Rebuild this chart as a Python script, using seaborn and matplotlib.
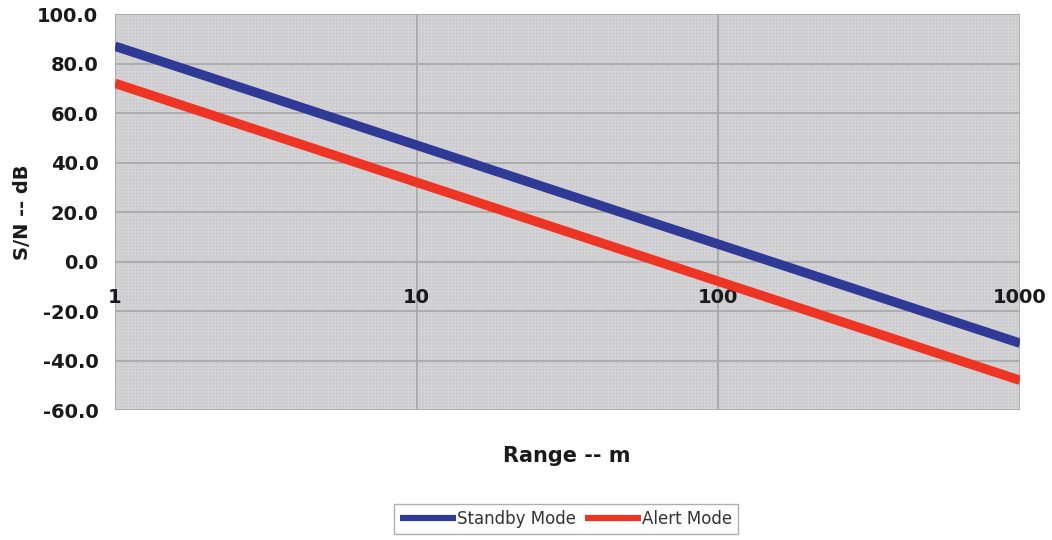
import matplotlib
matplotlib.use('Agg')
import matplotlib.pyplot as plt
import matplotlib.ticker as mticker
from matplotlib.patches import Rectangle
import pandas as pd
import seaborn as sns

ranges = [1, 10, 100, 1000]
standby = [87.0, 47.0, 7.0, -33.0]
alert = [72.0, 32.0, -8.0, -48.0]
series_names = ['Standby Mode', 'Alert Mode']
colors = ['#2e3a96', '#ee3524']
x_ticks = [1, 10, 100, 1000]
y_ticks = [-60, -40, -20, 0, 20, 40, 60, 80, 100]

df = pd.DataFrame({
    'Range': ranges * 2,
    'SN': standby + alert,
    'Mode': [series_names[0]] * len(ranges) + [series_names[1]] * len(ranges),
})

sns.set_style('white')
plt.rcParams['font.family'] = ['DejaVu Sans']
plt.rcParams['hatch.linewidth'] = 0.6

fig = plt.figure(figsize=(10.52, 5.40), dpi=100)
ax = fig.add_axes([0.1093, 0.2407, 0.8603, 0.7333])
ax.set_facecolor('#cbcbcd')
# fine dotted texture of the plot area
ax.add_patch(Rectangle((0, 0), 1, 1, transform=ax.transAxes, facecolor='none',
                       edgecolor='#d6d6d8', hatch='+' * 5, linewidth=0, zorder=0))

sns.lineplot(data=df, x='Range', y='SN', hue='Mode', palette=colors,
             linewidth=6.8, ax=ax, legend=True, solid_capstyle='butt')

ax.set_xscale('log')
ax.set_xlim(1, 1000)
ax.set_ylim(-60, 100)
ax.set_xticks(x_ticks)
ax.xaxis.set_major_formatter(mticker.FuncFormatter(lambda v, p: f'{v:g}'))
ax.xaxis.set_minor_locator(mticker.NullLocator())
ax.set_yticks(y_ticks)
ax.yaxis.set_major_formatter(mticker.FormatStrFormatter('%.1f'))

ax.grid(True, color='#a9a9ab', linewidth=1.3, zorder=1)
ax.set_axisbelow(True)
for s in ['top', 'right', 'left']:
    ax.spines[s].set_visible(False)
ax.spines['bottom'].set_position(('data', 0))
ax.spines['bottom'].set_visible(False)

ax.tick_params(axis='both', length=0, labelsize=14)
ax.tick_params(axis='x', pad=19)
ax.tick_params(axis='y', pad=12)
for lbl in ax.get_xticklabels() + ax.get_yticklabels():
    lbl.set_fontweight('bold')
    lbl.set_color('#1a1a1a')

ax.set_xlabel('')
ax.set_ylabel('')
fig.text(0.021, 0.607, 'S/N -- dB', rotation=90, ha='center', va='center',
         fontsize=14, fontweight='bold', color='#1a1a1a')
fig.text(0.5385, 0.155, 'Range -- m', ha='center', va='center',
         fontsize=15, fontweight='bold', color='#1a1a1a')

handles, labels = ax.get_legend_handles_labels()
ax.get_legend().remove()
for h in handles:
    h.set_linewidth(4.5)
    h.set_solid_capstyle('butt')
leg = fig.legend(handles, labels, loc='center', bbox_to_anchor=(0.538, 0.039),
                 ncol=2, frameon=True, fancybox=False, fontsize=12,
                 handlelength=3.4, handletextpad=0.05, columnspacing=0.5,
                 borderpad=0.35, edgecolor='#9a9a9a')
leg.get_frame().set_linewidth(1.0)
for t in leg.get_texts():
    t.set_color('#333333')

fig.savefig('out.png', dpi=100)
